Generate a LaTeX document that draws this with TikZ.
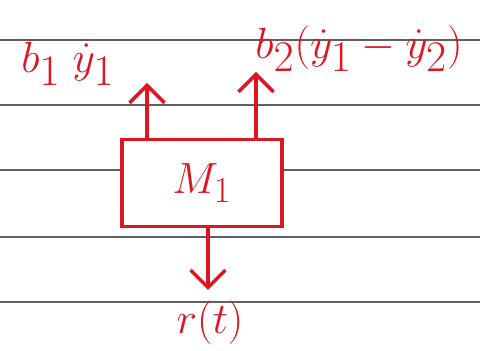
\documentclass[tikz,border=0pt]{standalone}
\usepackage{tikz}
\usetikzlibrary{arrows.meta, positioning, calc}
\usepackage{amsmath, amssymb}
\definecolor{inkred}{RGB}{222, 22, 34}
\definecolor{ruleline}{RGB}{95, 95, 95}
\tikzset{
    ruled/.style={draw=ruleline, line width=0.7pt},
    massbox/.style={draw=inkred, line width=2pt, rectangle, minimum width=3.2cm, minimum height=1.74cm, text=inkred, font=\fontsize{28}{32}\selectfont},
    forcearrow/.style={-{Straight Barb[length=3.5mm, width=7mm]}, line width=2pt, draw=inkred},
    forcelabel/.style={text=inkred, font=\fontsize{33}{38}\selectfont},
}
\begin{document}
\begin{tikzpicture}
                \useasboundingbox (0,0) rectangle (9.6,7.02);
                % Ruled paper
                \foreach \y in {6.22, 4.92, 3.62, 2.28, 0.98}
                    \draw[ruled] (0,\y) -- (9.6,\y);
                
                % Mass
                \node[massbox, fill=white] (m1) at (4.04, 3.36) {$M_1$};
                
                % Free ends of the arrows
                \coordinate (up1) at (2.94, 5.36);
                \coordinate (up2) at (5.12, 5.58);
                \coordinate (down) at (4.16, 1.22);
                
                % Labels
                \node[forcelabel] (f1) at (1.36, 5.74) {$b_1\;\dot{y}_1$};
                \node[forcelabel] (f2) at (7.18, 6.04) {$b_2(\dot{y}_1-\dot{y}_2)$};
                \node[forcelabel] (rt) at (4.2, 0.56) {$r(t)$};
                
                % Arrows
                \draw[forcearrow] (m1.north -| up1) -- (up1);
                \draw[forcearrow] (m1.north -| up2) -- (up2);
                \draw[forcearrow] (m1.south -| down) -- (down);
            \end{tikzpicture}
\end{document}
